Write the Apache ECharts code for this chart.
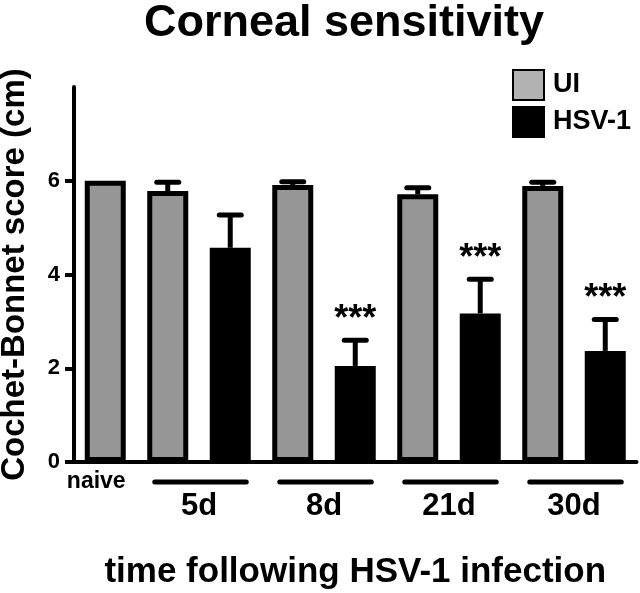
<!DOCTYPE html>
<html>
<head>
<meta charset="utf-8">
<script src="https://cdn.jsdelivr.net/npm/echarts@6/dist/echarts.min.js"></script>
<style>
html,body{margin:0;padding:0;background:#fff;}
#chart{width:640px;height:593px;}
</style>
</head>
<body>
<div id="chart"></div>
<script>
// ---- data ----
const categories = ['naive', '5d UI', '5d HSV-1', '8d UI', '8d HSV-1', '21d UI', '21d HSV-1', '30d UI', '30d HSV-1'];
const uiMean  = [6.00, 5.78, null, 5.91, null, 5.71, null, 5.89, null];
const uiErr   = [0.00, 0.19, null, 0.07, null, 0.14, null, 0.08, null];
const hsvMean = [null, null, 4.57, null, 2.05, null, 3.17, null, 2.37];
const hsvErr  = [null, null, 0.70, null, 0.55, null, 0.73, null, 0.67];
const stars   = ['', '', '', '', '***', '', '***', '', '***'];
const groupLabels = ['naive', '5d', '8d', '21d', '30d'];
const groupStart  = [0, 1, 3, 5, 7];
const groupEnd    = [0, 2, 4, 6, 8];
const yTicks = [0, 2, 4, 6];

const FONT = '"Liberation Sans", Arial, Helvetica, sans-serif';

const errData = [];
categories.forEach((c, i) => {
  if (uiMean[i] != null) errData.push([i, uiMean[i], uiMean[i] + uiErr[i]]);
  if (hsvMean[i] != null) errData.push([i, hsvMean[i], hsvMean[i] + hsvErr[i]]);
});
const groupData = groupLabels.map((g, k) => [groupStart[k], groupEnd[k], k]);

const chart = echarts.init(document.getElementById('chart'));
chart.setOption({
  animation: false,
  backgroundColor: '#fff',
  title: {
    text: 'Corneal sensitivity',
    left: 339, top: -4, textAlign: 'center',
    textStyle: { fontFamily: FONT, fontWeight: 'bold', fontSize: 45, color: '#000' }
  },
  legend: {
    orient: 'vertical', left: 507, top: 64,
    itemWidth: 31, itemHeight: 30, itemGap: 5,
    icon: 'rect',
    data: [{ name: 'UI', itemStyle: { color: '#b2b2b2' } }, 'HSV-1'],
    textStyle: { fontFamily: FONT, fontWeight: 'bold', fontSize: 27, color: '#000', padding: [0, 0, 0, 4] }
  },
  grid: { left: 74, right: 3.5, top: 87, bottom: 131, containLabel: false, outerBoundsMode: 'none' },
  xAxis: {
    type: 'category', data: categories,
    axisLine: { lineStyle: { color: '#000', width: 4 } },
    axisTick: { show: false }, axisLabel: { show: false },
    name: 'time following HSV-1 infection', nameLocation: 'middle', nameGap: 93,
    nameTextStyle: { fontFamily: FONT, fontWeight: 'bold', fontSize: 35, color: '#000' }
  },
  yAxis: {
    type: 'value', min: 0, max: 8, interval: 2,
    splitLine: { show: false },
    axisLine: { show: true, lineStyle: { color: '#000', width: 4 } },
    axisTick: { show: true, length: 9, customValues: yTicks, lineStyle: { color: '#000', width: 4 } },
    axisLabel: { customValues: yTicks, margin: 14, fontFamily: FONT, fontWeight: 'bold', fontSize: 22, color: '#000' },
    name: 'Cochet-Bonnet score (cm)', nameLocation: 'middle', nameGap: 43, nameRotate: 90,
    nameTextStyle: { fontFamily: FONT, fontWeight: 'bold', fontSize: 33, color: '#000' }
  },
  series: [
    {
      name: 'UI', type: 'bar', data: uiMean, barWidth: 41, barGap: '-100%',
      itemStyle: { color: '#969696', borderColor: '#000', borderWidth: 5 }, z: 2
    },
    {
      name: 'HSV-1', type: 'bar', data: hsvMean, barWidth: 41, barGap: '-100%',
      itemStyle: { color: '#000', borderColor: '#000', borderWidth: 5 }, z: 2
    },
    {
      name: 'err', type: 'custom', data: errData, clip: false, z: 3,
      renderItem: function (params, api) {
        const i = api.value(0);
        const p0 = api.coord([i, api.value(1)]);
        const p1 = api.coord([i, api.value(2)]);
        const children = [];
        if (p0[1] - p1[1] > 0.5) {
          children.push({ type: 'line', shape: { x1: p0[0], y1: p0[1], x2: p1[0], y2: p1[1] }, style: { stroke: '#000', lineWidth: 5 } });
          children.push({ type: 'line', shape: { x1: p1[0] - 11, y1: p1[1], x2: p1[0] + 11, y2: p1[1] }, style: { stroke: '#000', lineWidth: 5, lineCap: 'round' } });
        }
        if (stars[i]) {
          children.push({ type: 'text', style: { text: stars[i], x: p1[0], y: p1[1] - 20, align: 'center', verticalAlign: 'middle', fill: '#000', font: 'bold 36px ' + FONT } });
        }
        return { type: 'group', children: children };
      }
    },
    {
      name: 'groups', type: 'custom', data: groupData, clip: false, z: 3, silent: true,
      renderItem: function (params, api) {
        const s = api.value(0), e = api.value(1), k = api.value(2);
        const a = api.coord([s, 0]);
        const b = api.coord([e, 0]);
        const children = [];
        if (s === e) {
          children.push({ type: 'text', style: { text: groupLabels[k], x: a[0] - 9, y: a[1] + 20, align: 'center', verticalAlign: 'middle', fill: '#000', font: 'bold 23px ' + FONT } });
        } else {
          children.push({ type: 'line', shape: { x1: a[0] - 13, y1: a[1] + 20, x2: b[0] + 16, y2: b[1] + 20 }, style: { stroke: '#000', lineWidth: 5, lineCap: 'round' } });
          children.push({ type: 'text', style: { text: groupLabels[k], x: (a[0] + b[0]) / 2, y: a[1] + 44, align: 'center', verticalAlign: 'middle', fill: '#000', font: 'bold 31px ' + FONT } });
        }
        return { type: 'group', children: children };
      }
    }
  ]
});
</script>
</body>
</html>
